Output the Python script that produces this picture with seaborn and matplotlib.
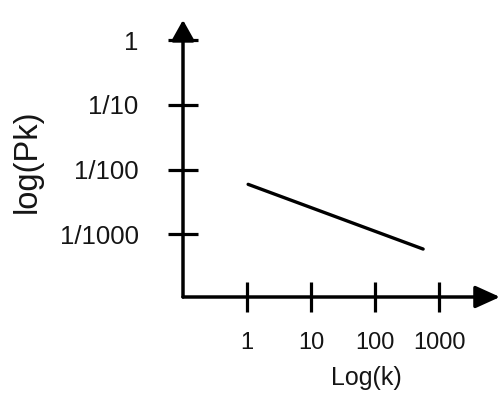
import matplotlib
matplotlib.use("Agg")
import matplotlib.pyplot as plt
import seaborn as sns
import pandas as pd

# data
k_values = [1.04, 562]
pk_values = [0.0059, 0.00059]
x_ticks = [1, 10, 100, 1000]
x_tick_labels = ["1", "10", "100", "1000"]
y_ticks = [1, 0.1, 0.01, 0.001]
y_tick_labels = ["1", "1/10", "1/100", "1/1000"]
x_label = "Log(k)"
y_label = "log(Pk)"

sns.set_theme(style="white")
plt.rcParams['font.family'] = ['Liberation Sans', 'DejaVu Sans']

W, H = 502, 396
fig = plt.figure(figsize=(W / 100, H / 100), dpi=100)
left_px, right_px, bottom_px, top_px = 183, 500, 297, 20
ax = fig.add_axes([left_px / W, (H - bottom_px) / H,
                   (right_px - left_px) / W, (bottom_px - top_px) / H])

df = pd.DataFrame({"k": k_values, "Pk": pk_values})
sns.lineplot(data=df, x="k", y="Pk", ax=ax, color="black", linewidth=2.4)

ax.set_xscale("log")
ax.set_yscale("log")
ax.set_xlim(0.1, 10 ** 3.95)
ax.set_ylim(10 ** -3.97, 10 ** 0.31)

ax.set_xticks(x_ticks)
ax.set_xticklabels(x_tick_labels)
ax.set_yticks(y_ticks)
ax.set_yticklabels(y_tick_labels)
ax.minorticks_off()

for s in ax.spines.values():
    s.set_visible(False)

ax.tick_params(axis="both", direction="inout", length=22, width=2.3,
               color="black", labelcolor="#151515")
ax.tick_params(axis="y", pad=21, labelsize=18.5, left=True)
ax.tick_params(axis="x", pad=14, labelsize=17, bottom=True)

ax.set_xlabel(x_label, fontsize=18, color="#151515")
ax.xaxis.set_label_coords(0.577, -0.25)
ax.set_ylabel(y_label, fontsize=23.5, color="#151515")
ax.yaxis.set_label_coords(-0.492, 0.491)
ax.yaxis.label.set_va("center")

# axis arrows
ax.annotate("", xy=(0, 1), xytext=(0, 0), xycoords="axes fraction",
            arrowprops=dict(arrowstyle="-|>,head_length=12.5,head_width=7",
                            mutation_scale=1, lw=2.5, color="black",
                            shrinkA=0, shrinkB=0), annotation_clip=False)
ax.annotate("", xy=(1, 0), xytext=(0, 0), xycoords="axes fraction",
            arrowprops=dict(arrowstyle="-|>,head_length=15,head_width=6.8",
                            mutation_scale=1, lw=2.5, color="black",
                            shrinkA=0, shrinkB=0), annotation_clip=False)

ax.set_facecolor("white")
fig.patch.set_facecolor("white")
fig.savefig("out.png", dpi=100)
